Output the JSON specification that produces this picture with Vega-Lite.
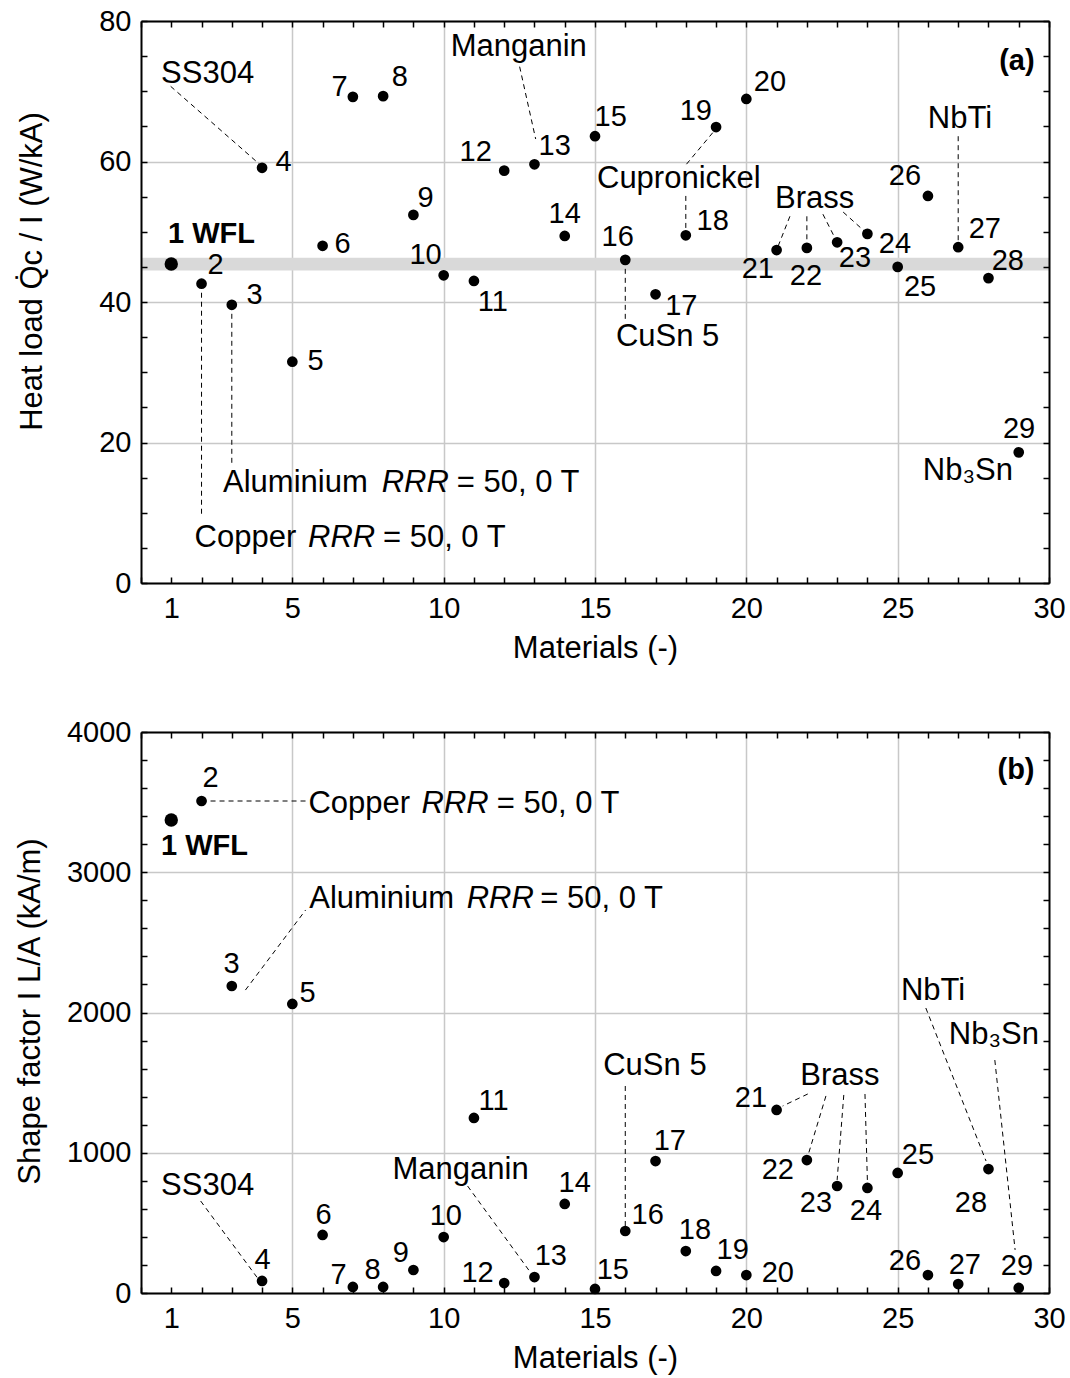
{
  "$schema": "https://vega.github.io/schema/vega-lite/v6.json",
  "padding": {"left": 14, "top": 7, "right": 5, "bottom": 5},
  "spacing": 55,
  "datasets": {
    "bandA": [{"lo": 44.5, "hi": 46.3}],
    "heatA": [
      {"m": 1, "v": 45.4}, {"m": 2, "v": 42.6}, {"m": 3, "v": 39.6}, {"m": 4, "v": 59.1}, {"m": 5, "v": 31.5},
      {"m": 6, "v": 48.0}, {"m": 7, "v": 69.2}, {"m": 8, "v": 69.3}, {"m": 9, "v": 52.4}, {"m": 10, "v": 43.8},
      {"m": 11, "v": 43.0}, {"m": 12, "v": 58.7}, {"m": 13, "v": 59.6}, {"m": 14, "v": 49.4}, {"m": 15, "v": 63.6},
      {"m": 16, "v": 46.0}, {"m": 17, "v": 41.1}, {"m": 18, "v": 49.5}, {"m": 19, "v": 64.9}, {"m": 20, "v": 68.9},
      {"m": 21, "v": 47.4}, {"m": 22, "v": 47.7}, {"m": 23, "v": 48.5}, {"m": 24, "v": 49.7}, {"m": 25, "v": 45.0},
      {"m": 26, "v": 55.1}, {"m": 27, "v": 47.8}, {"m": 28, "v": 43.4}, {"m": 29, "v": 18.6}
    ],
    "numsA": [
      {"t": "2", "x": 2.46, "y": 45.3}, {"t": "3", "x": 3.75, "y": 41.0}, {"t": "4", "x": 4.71, "y": 59.9},
      {"t": "5", "x": 5.77, "y": 31.6}, {"t": "6", "x": 6.66, "y": 48.3}, {"t": "7", "x": 6.56, "y": 70.6},
      {"t": "8", "x": 8.55, "y": 72.0}, {"t": "9", "x": 9.40, "y": 54.8}, {"t": "10", "x": 9.40, "y": 46.7},
      {"t": "11", "x": 11.62, "y": 40.0}, {"t": "12", "x": 11.06, "y": 61.4}, {"t": "13", "x": 13.67, "y": 62.2},
      {"t": "14", "x": 14.0, "y": 52.5}, {"t": "15", "x": 15.52, "y": 66.3}, {"t": "16", "x": 15.75, "y": 49.3},
      {"t": "17", "x": 17.85, "y": 39.4}, {"t": "18", "x": 18.89, "y": 51.5}, {"t": "19", "x": 18.33, "y": 67.2},
      {"t": "20", "x": 20.78, "y": 71.3}, {"t": "21", "x": 20.38, "y": 44.7}, {"t": "22", "x": 21.97, "y": 43.7},
      {"t": "23", "x": 23.59, "y": 46.3}, {"t": "24", "x": 24.91, "y": 48.3}, {"t": "25", "x": 25.74, "y": 42.1},
      {"t": "26", "x": 25.24, "y": 57.9}, {"t": "27", "x": 27.88, "y": 50.4}, {"t": "28", "x": 28.64, "y": 45.8},
      {"t": "29", "x": 29.01, "y": 21.9}
    ],
    "notesA": [
      {"t": "SS304", "x": 2.2, "y": 72.5}, {"t": "Manganin", "x": 12.48, "y": 76.3},
      {"t": "Cupronickel", "x": 17.77, "y": 57.5}, {"t": "CuSn 5", "x": 17.4, "y": 35.0},
      {"t": "Brass", "x": 22.26, "y": 54.7}, {"t": "NbTi", "x": 27.06, "y": 66.0},
      {"t": "Nb₃Sn", "x": 27.32, "y": 15.9}
    ],
    "boldA": [{"t": "1 WFL", "x": 2.33, "y": 49.7}, {"t": "(a)", "x": 28.94, "y": 74.3}],
    "runsA": [
      {"t": "Aluminium", "x": 5.1, "y": 12.95}, {"t": "= 50, 0 T", "x": 12.46, "y": 12.95},
      {"t": "Copper", "x": 3.45, "y": 5.1}, {"t": "= 50, 0 T", "x": 10.02, "y": 5.1}
    ],
    "italA": [{"t": "RRR", "x": 9.06, "y": 12.95}, {"t": "RRR", "x": 6.63, "y": 5.1}],
    "leadA": [
      {"x": 0.98, "y": 70.7, "x2": 3.92, "y2": 59.6},
      {"x": 2.0, "y": 42.6, "x2": 2.0, "y2": 9.4},
      {"x": 3.0, "y": 39.6, "x2": 3.0, "y2": 16.7},
      {"x": 12.51, "y": 73.5, "x2": 13.04, "y2": 63.2},
      {"x": 18.89, "y": 64.1, "x2": 18.0, "y2": 59.5},
      {"x": 18.0, "y": 55.1, "x2": 18.0, "y2": 49.5},
      {"x": 16.0, "y": 46.0, "x2": 16.0, "y2": 37.6},
      {"x": 21.44, "y": 52.2, "x2": 21.0, "y2": 47.4},
      {"x": 22.0, "y": 52.2, "x2": 22.0, "y2": 47.7},
      {"x": 22.53, "y": 52.5, "x2": 23.0, "y2": 48.5},
      {"x": 23.2, "y": 52.8, "x2": 24.0, "y2": 49.7},
      {"x": 27.0, "y": 63.6, "x2": 27.0, "y2": 47.8}
    ],
    "shapeB": [
      {"m": 1, "v": 3373}, {"m": 2, "v": 3508}, {"m": 3, "v": 2189}, {"m": 4, "v": 86}, {"m": 5, "v": 2061},
      {"m": 6, "v": 414}, {"m": 7, "v": 43}, {"m": 8, "v": 43}, {"m": 9, "v": 164}, {"m": 10, "v": 399},
      {"m": 11, "v": 1248}, {"m": 12, "v": 71}, {"m": 13, "v": 114}, {"m": 14, "v": 635}, {"m": 15, "v": 29},
      {"m": 16, "v": 442}, {"m": 17, "v": 941}, {"m": 18, "v": 299}, {"m": 19, "v": 157}, {"m": 20, "v": 128},
      {"m": 21, "v": 1305}, {"m": 22, "v": 948}, {"m": 23, "v": 763}, {"m": 24, "v": 749}, {"m": 25, "v": 856},
      {"m": 26, "v": 128}, {"m": 27, "v": 64}, {"m": 28, "v": 884}, {"m": 29, "v": 36}
    ],
    "numsB": [
      {"t": "2", "x": 2.30, "y": 3672}, {"t": "3", "x": 2.99, "y": 2346}, {"t": "4", "x": 4.02, "y": 235},
      {"t": "5", "x": 5.50, "y": 2139}, {"t": "6", "x": 6.03, "y": 556}, {"t": "7", "x": 6.53, "y": 128},
      {"t": "8", "x": 7.65, "y": 164}, {"t": "9", "x": 8.58, "y": 285}, {"t": "10", "x": 10.07, "y": 549},
      {"t": "11", "x": 11.65, "y": 1369}, {"t": "12", "x": 11.12, "y": 143}, {"t": "13", "x": 13.54, "y": 264},
      {"t": "14", "x": 14.33, "y": 784}, {"t": "15", "x": 15.59, "y": 164}, {"t": "16", "x": 16.74, "y": 556},
      {"t": "17", "x": 17.47, "y": 1084}, {"t": "18", "x": 18.3, "y": 449}, {"t": "19", "x": 19.55, "y": 307},
      {"t": "20", "x": 21.04, "y": 143}, {"t": "21", "x": 20.15, "y": 1390}, {"t": "22", "x": 21.04, "y": 877},
      {"t": "23", "x": 22.3, "y": 642}, {"t": "24", "x": 23.95, "y": 585}, {"t": "25", "x": 25.67, "y": 984},
      {"t": "26", "x": 25.24, "y": 228}, {"t": "27", "x": 27.22, "y": 200}, {"t": "28", "x": 27.42, "y": 642},
      {"t": "29", "x": 28.94, "y": 193}
    ],
    "notesB": [
      {"t": "SS304", "x": 2.2, "y": 763}, {"t": "Manganin", "x": 10.56, "y": 877},
      {"t": "CuSn 5", "x": 16.98, "y": 1619}, {"t": "Brass", "x": 23.09, "y": 1547},
      {"t": "NbTi", "x": 26.17, "y": 2150}, {"t": "Nb₃Sn", "x": 28.18, "y": 1840}
    ],
    "boldB": [{"t": "1 WFL", "x": 2.10, "y": 3187}, {"t": "(b)", "x": 28.91, "y": 3729}],
    "runsB": [
      {"t": "Copper", "x": 7.21, "y": 3422}, {"t": "= 50, 0 T", "x": 13.78, "y": 3422},
      {"t": "Aluminium", "x": 7.95, "y": 2745}, {"t": "= 50, 0 T", "x": 15.22, "y": 2745}
    ],
    "italB": [{"t": "RRR", "x": 10.38, "y": 3422}, {"t": "RRR", "x": 11.87, "y": 2745}],
    "leadB": [
      {"x": 1.97, "y": 656, "x2": 3.85, "y2": 107},
      {"x": 2.0, "y": 3508, "x2": 5.44, "y2": 3508},
      {"x": 3.45, "y": 2160, "x2": 5.44, "y2": 2731},
      {"x": 10.79, "y": 763, "x2": 12.88, "y2": 143},
      {"x": 16.0, "y": 1476, "x2": 16.0, "y2": 442},
      {"x": 22.03, "y": 1419, "x2": 21.2, "y2": 1333},
      {"x": 22.63, "y": 1405, "x2": 22.05, "y2": 990},
      {"x": 23.22, "y": 1412, "x2": 23.0, "y2": 806},
      {"x": 23.92, "y": 1419, "x2": 24.0, "y2": 799},
      {"x": 25.93, "y": 2032, "x2": 27.92, "y2": 941},
      {"x": 28.21, "y": 1661, "x2": 28.88, "y2": 307}
    ]
  },
  "vconcat": [
    {
      "width": 908,
      "height": 562,
      "resolve": {"axis": {"x": "independent", "y": "independent"}},
      "layer": [
        {
          "data": {"name": "bandA"},
          "mark": {"type": "rect", "color": "#d9d9d9"},
          "encoding": {
            "y": {"field": "lo", "type": "quantitative", "scale": {"domain": [0, 80], "nice": false}, "axis": null},
            "y2": {"field": "hi"}
          }
        },
        {
          "data": {"name": "leadA"},
          "mark": {"type": "rule", "color": "black", "strokeWidth": 1, "strokeDash": [5, 4]},
          "encoding": {
            "x": {"field": "x", "type": "quantitative", "scale": {"domain": [0, 30], "nice": false, "zero": false},
              "axis": {"orient": "bottom", "values": [1, 5, 10, 15, 20, 25, 30], "ticks": false, "domain": false, "grid": true,
                "gridOpacity": {"condition": {"test": "datum.value == 1 || datum.value == 30", "value": 0}, "value": 1},
                "labelPadding": 11, "labelFlush": false, "labelOverlap": false, "title": "Materials (-)", "titleY": 65, "titleBaseline": "middle"}},
            "x2": {"field": "x2"},
            "y": {"field": "y", "type": "quantitative", "scale": {"domain": [0, 80], "nice": false},
              "axis": {"orient": "left", "values": [0, 20, 40, 60, 80], "ticks": false, "domain": false, "grid": true,
                "labelPadding": 10, "labelFlush": false, "labelOverlap": false,
                "title": "Heat load Q̇c / I (W/kA)", "titleX": -109, "titleY": 250, "titleBaseline": "middle"}},
            "y2": {"field": "y2"}
          }
        },
        {
          "data": {"name": "heatA"},
          "transform": [{"filter": "datum.m > 1"}],
          "mark": {"type": "circle", "color": "black", "opacity": 1, "size": 115},
          "encoding": {
            "x": {"field": "m", "type": "quantitative", "scale": {"domain": [0, 30], "nice": false, "zero": false},
              "axis": {"orient": "bottom", "values": [0,1,2,3,4,5,6,7,8,9,10,11,12,13,14,15,16,17,18,19,20,21,22,23,24,25,26,27,28,29,30],
                "tickSize": -6, "tickColor": "black", "tickWidth": 1.5, "labels": false, "grid": false,
                "domain": true, "domainColor": "black", "domainWidth": 2, "title": null, "zindex": 1}},
            "y": {"field": "v", "type": "quantitative", "scale": {"domain": [0, 80], "nice": false},
              "axis": {"orient": "left", "values": [0,5,10,15,20,25,30,35,40,45,50,55,60,65,70,75,80],
                "tickSize": -6, "tickColor": "black", "tickWidth": 1.5, "labels": false, "grid": false,
                "domain": true, "domainColor": "black", "domainWidth": 2, "title": null, "zindex": 1}}
          }
        },
        {
          "data": {"name": "heatA"},
          "transform": [{"filter": "datum.m == 1"}],
          "mark": {"type": "circle", "color": "black", "opacity": 1, "size": 180},
          "encoding": {
            "x": {"field": "m", "type": "quantitative", "scale": {"domain": [0, 30], "nice": false, "zero": false},
              "axis": {"orient": "top", "values": [0,1,2,3,4,5,6,7,8,9,10,11,12,13,14,15,16,17,18,19,20,21,22,23,24,25,26,27,28,29,30],
                "tickSize": -6, "tickColor": "black", "tickWidth": 1.5, "labels": false, "grid": false,
                "domain": true, "domainColor": "black", "domainWidth": 2, "title": null, "zindex": 1}},
            "y": {"field": "v", "type": "quantitative", "scale": {"domain": [0, 80], "nice": false},
              "axis": {"orient": "right", "values": [0,5,10,15,20,25,30,35,40,45,50,55,60,65,70,75,80],
                "tickSize": -6, "tickColor": "black", "tickWidth": 1.5, "labels": false, "grid": false,
                "domain": true, "domainColor": "black", "domainWidth": 2, "title": null, "zindex": 1}}
          }
        },
        {
          "data": {"name": "numsA"},
          "mark": {"type": "text", "fontSize": 29, "align": "center", "baseline": "middle", "color": "black"},
          "encoding": {
            "x": {"field": "x", "type": "quantitative", "scale": {"domain": [0, 30], "nice": false, "zero": false}, "axis": null},
            "y": {"field": "y", "type": "quantitative", "scale": {"domain": [0, 80], "nice": false}, "axis": null},
            "text": {"field": "t"}
          }
        },
        {
          "data": {"name": "notesA"},
          "mark": {"type": "text", "fontSize": 31, "align": "center", "baseline": "middle", "color": "black"},
          "encoding": {
            "x": {"field": "x", "type": "quantitative", "scale": {"domain": [0, 30], "nice": false, "zero": false}, "axis": null},
            "y": {"field": "y", "type": "quantitative", "scale": {"domain": [0, 80], "nice": false}, "axis": null},
            "text": {"field": "t"}
          }
        },
        {
          "data": {"name": "boldA"},
          "mark": {"type": "text", "fontSize": 29, "fontWeight": "bold", "align": "center", "baseline": "middle", "color": "black"},
          "encoding": {
            "x": {"field": "x", "type": "quantitative", "scale": {"domain": [0, 30], "nice": false, "zero": false}, "axis": null},
            "y": {"field": "y", "type": "quantitative", "scale": {"domain": [0, 80], "nice": false}, "axis": null},
            "text": {"field": "t"}
          }
        },
        {
          "data": {"name": "runsA"},
          "mark": {"type": "text", "fontSize": 31, "align": "center", "baseline": "alphabetic", "color": "black"},
          "encoding": {
            "x": {"field": "x", "type": "quantitative", "scale": {"domain": [0, 30], "nice": false, "zero": false}, "axis": null},
            "y": {"field": "y", "type": "quantitative", "scale": {"domain": [0, 80], "nice": false}, "axis": null},
            "text": {"field": "t"}
          }
        },
        {
          "data": {"name": "italA"},
          "mark": {"type": "text", "fontSize": 31, "fontStyle": "italic", "align": "center", "baseline": "alphabetic", "color": "black"},
          "encoding": {
            "x": {"field": "x", "type": "quantitative", "scale": {"domain": [0, 30], "nice": false, "zero": false}, "axis": null},
            "y": {"field": "y", "type": "quantitative", "scale": {"domain": [0, 80], "nice": false}, "axis": null},
            "text": {"field": "t"}
          }
        }
      ]
    },
    {
      "width": 908,
      "height": 561,
      "resolve": {"axis": {"x": "independent", "y": "independent"}},
      "layer": [
        {
          "data": {"name": "leadB"},
          "mark": {"type": "rule", "color": "black", "strokeWidth": 1, "strokeDash": [5, 4]},
          "encoding": {
            "x": {"field": "x", "type": "quantitative", "scale": {"domain": [0, 30], "nice": false, "zero": false},
              "axis": {"orient": "bottom", "values": [1, 5, 10, 15, 20, 25, 30], "ticks": false, "domain": false, "grid": true,
                "gridOpacity": {"condition": {"test": "datum.value == 1 || datum.value == 30", "value": 0}, "value": 1},
                "labelPadding": 11, "labelFlush": false, "labelOverlap": false, "title": "Materials (-)", "titleY": 65, "titleBaseline": "middle"}},
            "x2": {"field": "x2"},
            "y": {"field": "y", "type": "quantitative", "scale": {"domain": [0, 4000], "nice": false},
              "axis": {"orient": "left", "values": [0, 1000, 2000, 3000, 4000], "format": "d", "ticks": false, "domain": false, "grid": true,
                "labelPadding": 10, "labelFlush": false, "labelOverlap": false,
                "title": "Shape factor  I L/A (kA/m)", "titleX": -111, "titleY": 279, "titleBaseline": "middle"}},
            "y2": {"field": "y2"}
          }
        },
        {
          "data": {"name": "shapeB"},
          "transform": [{"filter": "datum.m > 1"}],
          "mark": {"type": "circle", "color": "black", "opacity": 1, "size": 115},
          "encoding": {
            "x": {"field": "m", "type": "quantitative", "scale": {"domain": [0, 30], "nice": false, "zero": false},
              "axis": {"orient": "bottom", "values": [0,1,2,3,4,5,6,7,8,9,10,11,12,13,14,15,16,17,18,19,20,21,22,23,24,25,26,27,28,29,30],
                "tickSize": -6, "tickColor": "black", "tickWidth": 1.5, "labels": false, "grid": false,
                "domain": true, "domainColor": "black", "domainWidth": 2, "title": null, "zindex": 1}},
            "y": {"field": "v", "type": "quantitative", "scale": {"domain": [0, 4000], "nice": false},
              "axis": {"orient": "left", "values": [0,200,400,600,800,1000,1200,1400,1600,1800,2000,2200,2400,2600,2800,3000,3200,3400,3600,3800,4000],
                "tickSize": -6, "tickColor": "black", "tickWidth": 1.5, "labels": false, "grid": false,
                "domain": true, "domainColor": "black", "domainWidth": 2, "title": null, "zindex": 1}}
          }
        },
        {
          "data": {"name": "shapeB"},
          "transform": [{"filter": "datum.m == 1"}],
          "mark": {"type": "circle", "color": "black", "opacity": 1, "size": 180},
          "encoding": {
            "x": {"field": "m", "type": "quantitative", "scale": {"domain": [0, 30], "nice": false, "zero": false},
              "axis": {"orient": "top", "values": [0,1,2,3,4,5,6,7,8,9,10,11,12,13,14,15,16,17,18,19,20,21,22,23,24,25,26,27,28,29,30],
                "tickSize": -6, "tickColor": "black", "tickWidth": 1.5, "labels": false, "grid": false,
                "domain": true, "domainColor": "black", "domainWidth": 2, "title": null, "zindex": 1}},
            "y": {"field": "v", "type": "quantitative", "scale": {"domain": [0, 4000], "nice": false},
              "axis": {"orient": "right", "values": [0,200,400,600,800,1000,1200,1400,1600,1800,2000,2200,2400,2600,2800,3000,3200,3400,3600,3800,4000],
                "tickSize": -6, "tickColor": "black", "tickWidth": 1.5, "labels": false, "grid": false,
                "domain": true, "domainColor": "black", "domainWidth": 2, "title": null, "zindex": 1}}
          }
        },
        {
          "data": {"name": "numsB"},
          "mark": {"type": "text", "fontSize": 29, "align": "center", "baseline": "middle", "color": "black"},
          "encoding": {
            "x": {"field": "x", "type": "quantitative", "scale": {"domain": [0, 30], "nice": false, "zero": false}, "axis": null},
            "y": {"field": "y", "type": "quantitative", "scale": {"domain": [0, 4000], "nice": false}, "axis": null},
            "text": {"field": "t"}
          }
        },
        {
          "data": {"name": "notesB"},
          "mark": {"type": "text", "fontSize": 31, "align": "center", "baseline": "middle", "color": "black"},
          "encoding": {
            "x": {"field": "x", "type": "quantitative", "scale": {"domain": [0, 30], "nice": false, "zero": false}, "axis": null},
            "y": {"field": "y", "type": "quantitative", "scale": {"domain": [0, 4000], "nice": false}, "axis": null},
            "text": {"field": "t"}
          }
        },
        {
          "data": {"name": "boldB"},
          "mark": {"type": "text", "fontSize": 29, "fontWeight": "bold", "align": "center", "baseline": "middle", "color": "black"},
          "encoding": {
            "x": {"field": "x", "type": "quantitative", "scale": {"domain": [0, 30], "nice": false, "zero": false}, "axis": null},
            "y": {"field": "y", "type": "quantitative", "scale": {"domain": [0, 4000], "nice": false}, "axis": null},
            "text": {"field": "t"}
          }
        },
        {
          "data": {"name": "runsB"},
          "mark": {"type": "text", "fontSize": 31, "align": "center", "baseline": "alphabetic", "color": "black"},
          "encoding": {
            "x": {"field": "x", "type": "quantitative", "scale": {"domain": [0, 30], "nice": false, "zero": false}, "axis": null},
            "y": {"field": "y", "type": "quantitative", "scale": {"domain": [0, 4000], "nice": false}, "axis": null},
            "text": {"field": "t"}
          }
        },
        {
          "data": {"name": "italB"},
          "mark": {"type": "text", "fontSize": 31, "fontStyle": "italic", "align": "center", "baseline": "alphabetic", "color": "black"},
          "encoding": {
            "x": {"field": "x", "type": "quantitative", "scale": {"domain": [0, 30], "nice": false, "zero": false}, "axis": null},
            "y": {"field": "y", "type": "quantitative", "scale": {"domain": [0, 4000], "nice": false}, "axis": null},
            "text": {"field": "t"}
          }
        }
      ]
    }
  ],
  "config": {
    "font": "Liberation Sans",
    "view": {"stroke": null},
    "axis": {
      "labelFont": "Liberation Sans", "labelFontSize": 29, "labelColor": "black",
      "titleFont": "Liberation Sans", "titleFontSize": 31, "titleFontWeight": "normal", "titleColor": "black",
      "gridColor": "#c8c8c8", "gridWidth": 1.5
    }
  }
}
